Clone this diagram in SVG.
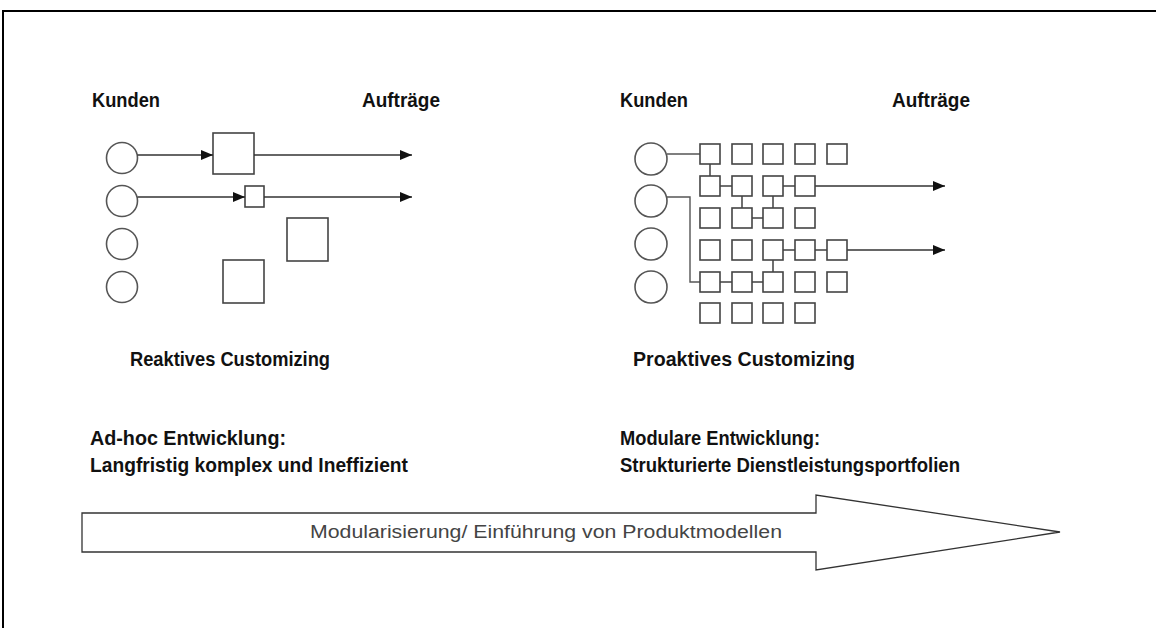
<svg xmlns="http://www.w3.org/2000/svg" width="1156" height="628" viewBox="0 0 1156 628">
  <style>
    .lbl { font-family: "Liberation Sans", Arial, sans-serif; font-weight: bold; font-size: 20.5px; fill: #111; }
    .band { font-family: "Liberation Sans", Arial, sans-serif; font-size: 18px; fill: #444; }
    .cust { fill: #fff; stroke: #555; stroke-width: 1.6; }
    .mod { fill: #fff; stroke: #444; stroke-width: 1.6; }
    .wire { fill: none; stroke: #555; stroke-width: 1.4; }
    .flow { fill: none; stroke: #333; stroke-width: 1.4; }
  </style>
  <defs>
    <marker id="head" viewBox="0 0 12 10" refX="12" refY="5" markerWidth="12" markerHeight="10" markerUnits="userSpaceOnUse" orient="auto">
      <path d="M0,0 L12,5 L0,10 Z" fill="#111"/>
    </marker>
  </defs>

  <rect width="1156" height="628" fill="#fff"/>
  <!-- page frame (top and left edges) -->
  <path d="M3,628 V11 H1156" fill="none" stroke="#000" stroke-width="2"/>

  <!-- left panel: reactive customizing -->
  <g id="reactive-labels">
    <text class="lbl" x="92" y="107" textLength="68" lengthAdjust="spacingAndGlyphs">Kunden</text>
    <text class="lbl" x="362" y="107" textLength="78" lengthAdjust="spacingAndGlyphs">Aufträge</text>
  </g>
  <g id="reactive-customers">
    <circle class="cust" cx="122" cy="158" r="15.5"/>
    <circle class="cust" cx="122" cy="201" r="15.5"/>
    <circle class="cust" cx="122" cy="244" r="15.5"/>
    <circle class="cust" cx="122" cy="287" r="15.5"/>
  </g>
  <g id="reactive-modules">
    <rect class="mod" x="213" y="133" width="41" height="41"/>
    <rect class="mod" x="245" y="186" width="19" height="21"/>
    <rect class="mod" x="287" y="218" width="41" height="43"/>
    <rect class="mod" x="223" y="260" width="41" height="43"/>
  </g>
  <g id="reactive-connectors">
    <line class="flow" x1="137.5" y1="155" x2="213" y2="155" marker-end="url(#head)"/>
    <line class="flow" x1="254" y1="155" x2="412" y2="155" marker-end="url(#head)"/>
    <line class="flow" x1="137.5" y1="197" x2="245" y2="197" marker-end="url(#head)"/>
    <line class="flow" x1="264" y1="197" x2="412" y2="197" marker-end="url(#head)"/>
  </g>
  <g id="reactive-caption">
    <text class="lbl" x="130" y="366" textLength="200" lengthAdjust="spacingAndGlyphs">Reaktives Customizing</text>
    <text class="lbl" x="90" y="445" textLength="196" lengthAdjust="spacingAndGlyphs">Ad-hoc Entwicklung:</text>
    <text class="lbl" x="90" y="472" textLength="318" lengthAdjust="spacingAndGlyphs">Langfristig komplex und Ineffizient</text>
  </g>

  <!-- right panel: proactive customizing -->
  <g id="proactive-labels">
    <text class="lbl" x="620" y="107" textLength="68" lengthAdjust="spacingAndGlyphs">Kunden</text>
    <text class="lbl" x="892" y="107" textLength="78" lengthAdjust="spacingAndGlyphs">Aufträge</text>
  </g>
  <g id="proactive-customers">
    <circle class="cust" cx="651" cy="159" r="16"/>
    <circle class="cust" cx="651" cy="201" r="16"/>
    <circle class="cust" cx="651" cy="244" r="16"/>
    <circle class="cust" cx="651" cy="287" r="16"/>
  </g>
  <g id="proactive-connectors">
    <polyline class="wire" points="667,154 700,154"/>
    <polyline class="wire" points="667,197 690,197 690,282 700,282"/>
    <line class="flow" x1="710" y1="164" x2="710" y2="176"/>
    <line class="flow" x1="720" y1="186" x2="732" y2="186"/>
    <line class="flow" x1="783" y1="186" x2="795" y2="186"/>
    <line class="flow" x1="815" y1="186" x2="945" y2="186" marker-end="url(#head)"/>
    <line class="flow" x1="742" y1="196" x2="742" y2="208"/>
    <line class="flow" x1="773" y1="196" x2="773" y2="208"/>
    <line class="flow" x1="752" y1="218" x2="763" y2="218"/>
    <line class="flow" x1="783" y1="250" x2="795" y2="250"/>
    <line class="flow" x1="815" y1="250" x2="827" y2="250"/>
    <line class="flow" x1="847" y1="250" x2="945" y2="250" marker-end="url(#head)"/>
    <line class="flow" x1="773" y1="260" x2="773" y2="272"/>
    <line class="flow" x1="720" y1="282" x2="732" y2="282"/>
    <line class="flow" x1="752" y1="282" x2="763" y2="282"/>
  </g>
  <g id="proactive-modules">
    <!-- row 1 -->
    <rect class="mod" x="700" y="144" width="20" height="20"/>
    <rect class="mod" x="732" y="144" width="20" height="20"/>
    <rect class="mod" x="763" y="144" width="20" height="20"/>
    <rect class="mod" x="795" y="144" width="20" height="20"/>
    <rect class="mod" x="827" y="144" width="20" height="20"/>
    <!-- row 2 -->
    <rect class="mod" x="700" y="176" width="20" height="20"/>
    <rect class="mod" x="732" y="176" width="20" height="20"/>
    <rect class="mod" x="763" y="176" width="20" height="20"/>
    <rect class="mod" x="795" y="176" width="20" height="20"/>
    <!-- row 3 -->
    <rect class="mod" x="700" y="208" width="20" height="20"/>
    <rect class="mod" x="732" y="208" width="20" height="20"/>
    <rect class="mod" x="763" y="208" width="20" height="20"/>
    <rect class="mod" x="795" y="208" width="20" height="20"/>
    <!-- row 4 -->
    <rect class="mod" x="700" y="240" width="20" height="20"/>
    <rect class="mod" x="732" y="240" width="20" height="20"/>
    <rect class="mod" x="763" y="240" width="20" height="20"/>
    <rect class="mod" x="795" y="240" width="20" height="20"/>
    <rect class="mod" x="827" y="240" width="20" height="20"/>
    <!-- row 5 -->
    <rect class="mod" x="700" y="272" width="20" height="20"/>
    <rect class="mod" x="732" y="272" width="20" height="20"/>
    <rect class="mod" x="763" y="272" width="20" height="20"/>
    <rect class="mod" x="795" y="272" width="20" height="20"/>
    <rect class="mod" x="827" y="272" width="20" height="20"/>
    <!-- row 6 -->
    <rect class="mod" x="700" y="303" width="20" height="20"/>
    <rect class="mod" x="732" y="303" width="20" height="20"/>
    <rect class="mod" x="763" y="303" width="20" height="20"/>
    <rect class="mod" x="795" y="303" width="20" height="20"/>
  </g>
  <g id="proactive-caption">
    <text class="lbl" x="633" y="366" textLength="222" lengthAdjust="spacingAndGlyphs">Proaktives Customizing</text>
    <text class="lbl" x="620" y="445" textLength="200" lengthAdjust="spacingAndGlyphs">Modulare Entwicklung:</text>
    <text class="lbl" x="620" y="472" textLength="340" lengthAdjust="spacingAndGlyphs">Strukturierte Dienstleistungsportfolien</text>
  </g>

  <!-- transition band -->
  <g id="transition-arrow">
    <polygon points="82,513 816,513 816,495 1060,532 816,570 816,552 82,552" fill="#fff" stroke="#333" stroke-width="1.3"/>
    <text class="band" x="546" y="538" text-anchor="middle" textLength="472" lengthAdjust="spacingAndGlyphs">Modularisierung/ Einführung von Produktmodellen</text>
  </g>
</svg>
